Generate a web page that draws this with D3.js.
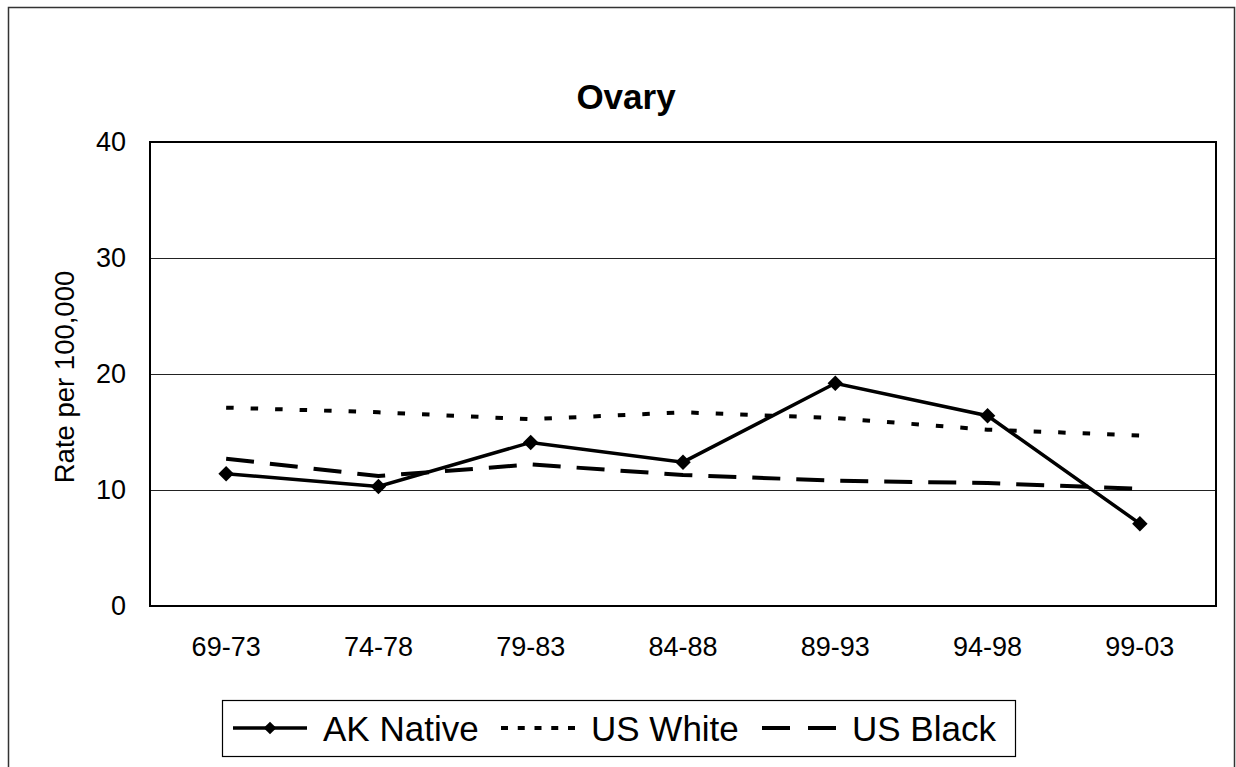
<!DOCTYPE html>
<html>
<head>
<meta charset="utf-8">
<script src="https://cdn.jsdelivr.net/npm/d3@7"></script>
<style>
  html, body { margin: 0; padding: 0; background: #fff; }
  svg { display: block; font-family: Arial, "Liberation Sans", sans-serif; }
</style>
</head>
<body>
<svg id="chart" width="1236" height="767"></svg>
<script>
const categories = ["69-73", "74-78", "79-83", "84-88", "89-93", "94-98", "99-03"];
const akNative = [11.4, 10.3, 14.1, 12.4, 19.2, 16.4, 7.1];
const usWhite = [17.1, 16.7, 16.1, 16.7, 16.2, 15.2, 14.7];
const usBlack = [12.7, 11.2, 12.2, 11.3, 10.8, 10.6, 10.1];
const yTicks = [0, 10, 20, 30, 40];
const seriesNames = ["AK Native", "US White", "US Black"];

const svg = d3.select("#chart");
const plot = { left: 150, right: 1216, top: 142, bottom: 606 };

// outer border
svg.append("rect").attr("x", 8.5).attr("y", 7.5).attr("width", 1226).attr("height", 800)
  .attr("fill", "#fff").attr("stroke", "#333").attr("stroke-width", 1.5);

const x = d3.scaleBand().domain(categories).range([plot.left, plot.right]);
const y = d3.scaleLinear().domain([0, 40]).range([plot.bottom, plot.top]);

// gridlines
svg.append("g").selectAll("line").data(yTicks.filter(t => t > 0 && t < 40)).join("line")
  .attr("x1", plot.left).attr("x2", plot.right)
  .attr("y1", d => Math.round(y(d)) + 0.5).attr("y2", d => Math.round(y(d)) + 0.5)
  .attr("stroke", "#222").attr("stroke-width", 1);

// plot border
svg.append("rect").attr("x", plot.left).attr("y", plot.top)
  .attr("width", plot.right - plot.left).attr("height", plot.bottom - plot.top)
  .attr("fill", "none").attr("stroke", "#000").attr("stroke-width", 2);

// y axis
const yAxis = d3.axisLeft(y).tickValues(yTicks).tickSize(0).tickPadding(24);
const gy = svg.append("g").attr("transform", `translate(${plot.left},0)`).call(yAxis);
gy.select(".domain").remove();
gy.selectAll("text").attr("font-size", 27).attr("fill", "#000").attr("font-family", "Arial, 'Liberation Sans', sans-serif");

// x axis
const xAxis = d3.axisBottom(x).tickSize(0).tickPadding(31);
const gx = svg.append("g").attr("transform", `translate(0,${plot.bottom})`).call(xAxis);
gx.select(".domain").remove();
gx.selectAll("text").attr("font-size", 27).attr("fill", "#000").attr("font-family", "Arial, 'Liberation Sans', sans-serif");

// title
svg.append("text").attr("x", 626).attr("y", 109).attr("text-anchor", "middle")
  .attr("font-size", 35).attr("font-weight", "bold").text("Ovary");

// y axis title
svg.append("text").attr("transform", `translate(74,${(plot.top + plot.bottom) / 2 + 3}) rotate(-90)`)
  .attr("text-anchor", "middle").attr("font-size", 27.5).text("Rate per 100,000");

const cx = d => x(d) + x.bandwidth() / 2;
const line = d3.line().x((d, i) => cx(categories[i])).y(d => y(d));

const styles = [
  { data: akNative, dash: null, width: 3.5 },
  { data: usWhite, dash: "7.5,17", width: 4 },
  { data: usBlack, dash: "28,16", width: 4 }
];

[styles[1], styles[2], styles[0]].forEach(s => {
  svg.append("path").datum(s.data).attr("d", line)
    .attr("fill", "none").attr("stroke", "#000").attr("stroke-width", s.width)
    .attr("stroke-dasharray", s.dash);
});

svg.append("g").selectAll("path").data(akNative).join("path")
  .attr("d", d3.symbol().type(d3.symbolSquare).size(120))
  .attr("transform", (d, i) => `translate(${cx(categories[i])},${y(d)}) rotate(45)`)
  .attr("fill", "#000");

// legend
const lg = svg.append("g");
lg.append("rect").attr("x", 222.5).attr("y", 700.5).attr("width", 793).attr("height", 56)
  .attr("fill", "#fff").attr("stroke", "#000").attr("stroke-width", 1.2);
const legendItems = [
  { name: seriesNames[0], x1: 233, x2: 307, tx: 323, dash: null, width: 3.5, marker: true },
  { name: seriesNames[1], x1: 501, x2: 575, tx: 591, dash: "7,9.75", width: 4, marker: false },
  { name: seriesNames[2], x1: 762, x2: 836, tx: 852, dash: "28,18", width: 4, marker: false }
];
const ly = 728;
legendItems.forEach(it => {
  lg.append("line").attr("x1", it.x1).attr("x2", it.x2).attr("y1", ly).attr("y2", ly)
    .attr("stroke", "#000").attr("stroke-width", it.width).attr("stroke-dasharray", it.dash);
  if (it.marker) {
    lg.append("path").attr("d", d3.symbol().type(d3.symbolSquare).size(80))
      .attr("transform", `translate(${(it.x1 + it.x2) / 2},${ly}) rotate(45)`).attr("fill", "#000");
  }
  lg.append("text").attr("x", it.tx).attr("y", ly + 12.5).attr("font-size", 35).text(it.name);
});
</script>
</body>
</html>
